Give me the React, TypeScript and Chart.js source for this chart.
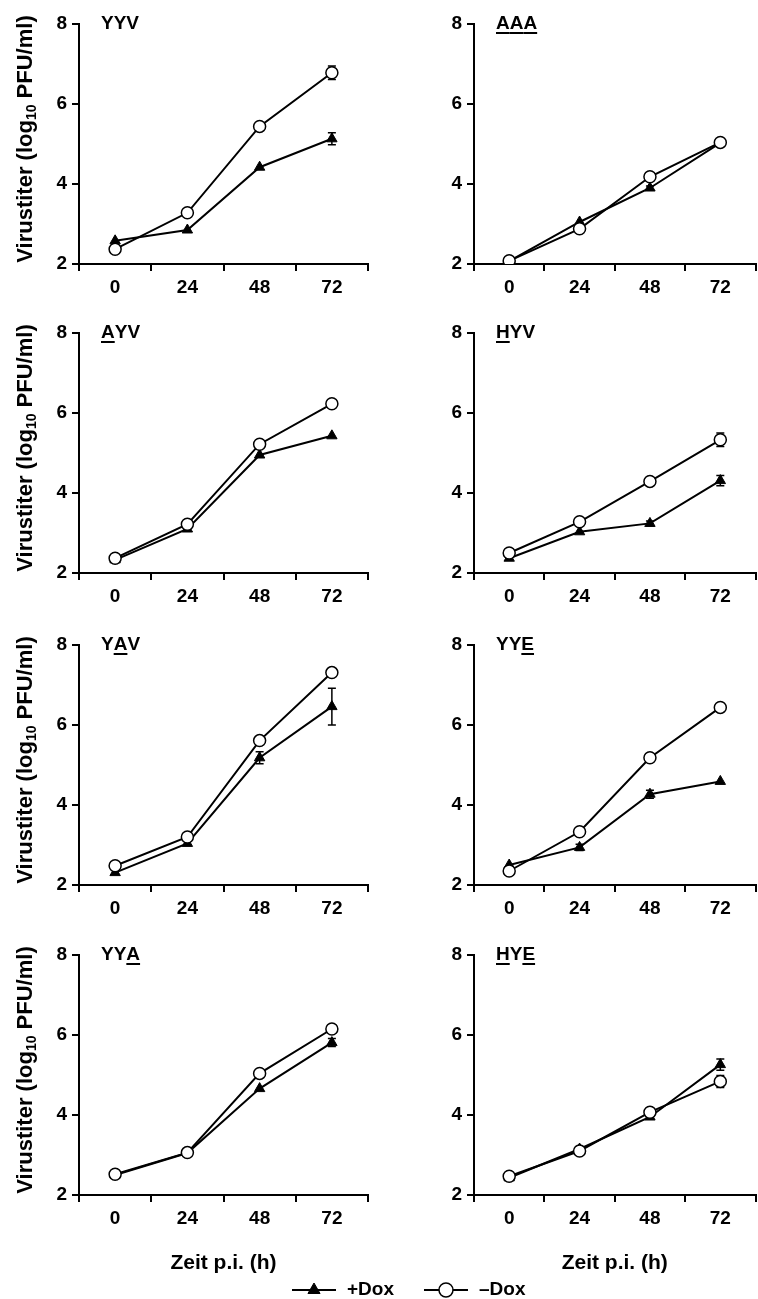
import React, { useEffect, useRef } from "react";
import { Chart, registerables } from "chart.js";
import { drawPoint } from "chart.js/helpers";

Chart.register(...registerables);

const FONT = "'Liberation Sans', Arial, Helvetica, sans-serif";

// ---- categories, ticks, labels ----
const timeLabels = ["0", "24", "48", "72"];
const yTickValues = [2, 4, 6, 8];
const seriesNames = ["+Dox", "\u2013Dox"];
const xAxisTitle = "Zeit p.i. (h)";
const yTitleMain = "Virustiter (log";
const yTitleSub = "10";
const yTitleEnd = " PFU/ml)";

// panel titles (row by row, left then right) and underlined letter positions
const panelNames = ["YYV", "AAA", "AYV", "HYV", "YAV", "YYE", "YYA", "HYE"];
const underlinedLetters = [[], [0, 1, 2], [0], [0], [1], [2], [2], [0, 2]];

// ---- series values (log10 PFU/ml) and error bars ----
const yyvPlus = [2.58, 2.85, 4.42, 5.13];
const yyvPlusErr = [0, 0, 0, 0.15];
const yyvMinus = [2.37, 3.28, 5.44, 6.78];
const yyvMinusErr = [0, 0, 0, 0.17];

const aaaPlus = [2.07, 3.05, 3.9, 5.03];
const aaaPlusErr = [0, 0, 0.05, 0];
const aaaMinus = [2.08, 2.88, 4.18, 5.04];
const aaaMinusErr = [0, 0, 0, 0.08];

const ayvPlus = [2.33, 3.1, 4.95, 5.43];
const ayvPlusErr = [0, 0, 0, 0];
const ayvMinus = [2.37, 3.22, 5.22, 6.23];
const ayvMinusErr = [0, 0, 0, 0];

const hyvPlus = [2.37, 3.03, 3.24, 4.31];
const hyvPlusErr = [0, 0, 0.06, 0.13];
const hyvMinus = [2.5, 3.28, 4.29, 5.33];
const hyvMinusErr = [0, 0, 0, 0.17];

const yavPlus = [2.31, 3.04, 5.18, 6.46];
const yavPlusErr = [0, 0, 0.15, 0.46];
const yavMinus = [2.48, 3.2, 5.61, 7.31];
const yavMinusErr = [0, 0, 0, 0];

const yyePlus = [2.5, 2.94, 4.27, 4.59];
const yyePlusErr = [0, 0.08, 0.1, 0];
const yyeMinus = [2.35, 3.33, 5.18, 6.44];
const yyeMinusErr = [0, 0, 0, 0.1];

const yyaPlus = [2.5, 3.05, 4.66, 5.81];
const yyaPlusErr = [0, 0, 0, 0.1];
const yyaMinus = [2.52, 3.06, 5.04, 6.15];
const yyaMinusErr = [0, 0, 0, 0.05];

const hyePlus = [2.43, 3.15, 3.95, 5.26];
const hyePlusErr = [0, 0.06, 0, 0.14];
const hyeMinus = [2.47, 3.1, 4.07, 4.84];
const hyeMinusErr = [0, 0, 0, 0.15];

const plusSeries = [yyvPlus, aaaPlus, ayvPlus, hyvPlus, yavPlus, yyePlus, yyaPlus, hyePlus];
const plusErrors = [yyvPlusErr, aaaPlusErr, ayvPlusErr, hyvPlusErr, yavPlusErr, yyePlusErr, yyaPlusErr, hyePlusErr];
const minusSeries = [yyvMinus, aaaMinus, ayvMinus, hyvMinus, yavMinus, yyeMinus, yyaMinus, hyeMinus];
const minusErrors = [yyvMinusErr, aaaMinusErr, ayvMinusErr, hyvMinusErr, yavMinusErr, yyeMinusErr, yyaMinusErr, hyeMinusErr];

// ---- layout ----
const COLS = [
  { left: 0, width: 380, yWidth: 79, padRight: 12 },
  { left: 379, width: 384, yWidth: 95, padRight: 0 },
];
const ROW_TOPS = [24, 333, 645, 955];
const PAD_TOP = 24;
const PLOT_H = 240;
const X_H = 45;
const X_H_LAST = 86;

const plusStyle = {
  borderColor: "#000",
  borderWidth: 2,
  pointStyle: "triangle",
  pointRadius: 6,
  pointBackgroundColor: "#000",
  pointBorderColor: "#000",
  pointBorderWidth: 1,
  tension: 0,
  order: 1,
};
const minusStyle = {
  borderColor: "#000",
  borderWidth: 2,
  pointStyle: "circle",
  pointRadius: 6,
  pointBackgroundColor: "#fff",
  pointBorderColor: "#000",
  pointBorderWidth: 1.5,
  tension: 0,
  order: 0,
};

const errorBarsPlugin = {
  id: "errorBars",
  beforeDatasetsDraw(chart: any) {
    const ctx = chart.ctx;
    const yScale = chart.scales.y;
    chart.data.datasets.forEach((ds: any, i: number) => {
      const meta = chart.getDatasetMeta(i);
      const errs = ds.errors || [];
      meta.data.forEach((pt: any, j: number) => {
        const e = errs[j];
        if (!e) return;
        const v = ds.data[j];
        const yT = yScale.getPixelForValue(v + e);
        const yB = yScale.getPixelForValue(v - e);
        ctx.save();
        ctx.strokeStyle = "#000";
        ctx.lineWidth = 1.5;
        ctx.beginPath();
        ctx.moveTo(pt.x, yT);
        ctx.lineTo(pt.x, yB);
        ctx.moveTo(pt.x - 4, yT);
        ctx.lineTo(pt.x + 4, yT);
        ctx.moveTo(pt.x - 4, yB);
        ctx.lineTo(pt.x + 4, yB);
        ctx.stroke();
        ctx.restore();
      });
    });
  },
};

const panelTitlePlugin = {
  id: "panelTitle",
  afterDraw(chart: any, _args: any, opts: any) {
    if (!opts || !opts.text) return;
    const { ctx, chartArea } = chart;
    ctx.save();
    ctx.font = `bold 19px ${FONT}`;
    ctx.fillStyle = "#000";
    ctx.textBaseline = "alphabetic";
    ctx.textAlign = "left";
    let x = chartArea.left + 22;
    const y = chartArea.top + 5;
    const text: string = opts.text;
    for (let k = 0; k < text.length; k++) {
      const ch = text[k];
      const w = ctx.measureText(ch).width;
      ctx.fillText(ch, x, y);
      if (opts.underline.includes(k)) ctx.fillRect(x, y + 3, w, 2);
      x += w;
    }
    ctx.restore();
  },
};

const yTitlePlugin = {
  id: "yTitle",
  afterDraw(chart: any, _args: any, opts: any) {
    if (!opts || !opts.show) return;
    const { ctx, chartArea } = chart;
    const parts = [
      { t: yTitleMain, size: 22, dy: 0, w: 0 },
      { t: yTitleSub, size: 14, dy: 4, w: 0 },
      { t: yTitleEnd, size: 22, dy: 0, w: 0 },
    ];
    ctx.save();
    ctx.fillStyle = "#000";
    ctx.textBaseline = "alphabetic";
    ctx.textAlign = "left";
    let total = 0;
    parts.forEach((p) => {
      ctx.font = `bold ${p.size}px ${FONT}`;
      p.w = ctx.measureText(p.t).width;
      total += p.w;
    });
    const cy = (chartArea.top + chartArea.bottom) / 2 - 5;
    ctx.translate(32, cy);
    ctx.rotate(-Math.PI / 2);
    let x = -total / 2;
    parts.forEach((p) => {
      ctx.font = `bold ${p.size}px ${FONT}`;
      ctx.fillText(p.t, x, p.dy);
      x += p.w;
    });
    ctx.restore();
  },
};

const lineLegendPlugin = {
  id: "lineLegend",
  afterDraw(chart: any, _args: any, opts: any) {
    const ctx = chart.ctx;
    const y = chart.height / 2;
    let x = opts.startX;
    chart.data.datasets.forEach((ds: any) => {
      ctx.save();
      ctx.strokeStyle = ds.borderColor;
      ctx.lineWidth = ds.borderWidth;
      ctx.beginPath();
      ctx.moveTo(x, y);
      ctx.lineTo(x + 44, y);
      ctx.stroke();
      ctx.fillStyle = ds.pointBackgroundColor;
      ctx.strokeStyle = ds.pointBorderColor;
      ctx.lineWidth = ds.pointBorderWidth;
      drawPoint(
        ctx,
        { pointStyle: ds.pointStyle, radius: ds.pointRadius + 1, rotation: 0, borderWidth: ds.pointBorderWidth } as any,
        x + 22,
        y
      );
      ctx.fillStyle = "#000";
      ctx.font = `bold 19px ${FONT}`;
      ctx.textBaseline = "middle";
      ctx.textAlign = "left";
      ctx.fillText(ds.label, x + 55, y);
      x += 55 + ctx.measureText(ds.label).width + 30;
      ctx.restore();
    });
  },
};

function makePanelConfig(i: number): any {
  const col = COLS[i % 2];
  const row = Math.floor(i / 2);
  const last = row === 3;
  const xH = last ? X_H_LAST : X_H;
  return {
    type: "line",
    data: {
      labels: timeLabels,
      datasets: [
        { label: seriesNames[0], data: plusSeries[i], errors: plusErrors[i], ...plusStyle },
        { label: seriesNames[1], data: minusSeries[i], errors: minusErrors[i], ...minusStyle },
      ],
    },
    options: {
      responsive: false,
      animation: false,
      events: [],
      layout: { padding: { top: PAD_TOP, right: col.padRight, bottom: 0, left: 0 } },
      plugins: {
        legend: { display: false },
        tooltip: { enabled: false },
        panelTitle: { text: panelNames[i], underline: underlinedLetters[i] },
        yTitle: { show: i % 2 === 0 },
      },
      scales: {
        x: {
          type: "category",
          offset: true,
          afterFit: (s: any) => {
            s.height = xH;
          },
          grid: { offset: true, drawOnChartArea: false, drawTicks: true, tickLength: 7, color: "#000", lineWidth: 2 },
          border: { display: true, color: "#000", width: 2 },
          ticks: { color: "#000", font: { family: FONT, size: 19, weight: "bold" }, padding: 5, maxRotation: 0 },
          title: {
            display: last,
            text: xAxisTitle,
            color: "#000",
            font: { family: FONT, size: 21, weight: "bold" },
            padding: { top: 0, bottom: 5 },
          },
        },
        y: {
          min: 2,
          max: 8,
          afterFit: (s: any) => {
            s.width = col.yWidth;
          },
          afterBuildTicks: (s: any) => {
            s.ticks = yTickValues.map((v) => ({ value: v }));
          },
          grid: { drawOnChartArea: false, drawTicks: true, tickLength: 7, color: "#000", lineWidth: 2 },
          border: { display: true, color: "#000", width: 2 },
          ticks: { color: "#000", font: { family: FONT, size: 19, weight: "bold" }, padding: 5 },
        },
      },
    },
    plugins: [errorBarsPlugin, panelTitlePlugin, yTitlePlugin],
  };
}

export default function App() {
  const refs = useRef<(HTMLCanvasElement | null)[]>([]);
  const legendRef = useRef<HTMLCanvasElement | null>(null);

  useEffect(() => {
    Chart.defaults.font.family = FONT;
    Chart.defaults.color = "#000";
    const charts: Chart[] = [];
    panelNames.forEach((_, i) => {
      const c = refs.current[i];
      if (c) charts.push(new Chart(c, makePanelConfig(i)));
    });
    if (legendRef.current) {
      charts.push(
        new Chart(legendRef.current, {
          type: "line",
          data: {
            labels: [],
            datasets: [
              { label: seriesNames[0], data: [], ...plusStyle } as any,
              { label: seriesNames[1], data: [], ...minusStyle } as any,
            ],
          },
          options: {
            responsive: false,
            animation: false,
            events: [],
            plugins: { legend: { display: false }, tooltip: { enabled: false }, lineLegend: { startX: 292 } } as any,
            scales: { x: { display: false }, y: { display: false } },
          },
          plugins: [lineLegendPlugin],
        })
      );
    }
    return () => charts.forEach((c) => c.destroy());
  }, []);

  return (
    <div
      style={{
        position: "absolute",
        left: 0,
        top: 0,
        width: 758,
        height: 1299,
        overflow: "hidden",
        background: "#fff",
      }}
    >
      {panelNames.map((name, i) => {
        const col = COLS[i % 2];
        const row = Math.floor(i / 2);
        const h = PAD_TOP + PLOT_H + (row === 3 ? X_H_LAST : X_H);
        return (
          <canvas
            key={name}
            ref={(el) => {
              refs.current[i] = el;
            }}
            width={col.width}
            height={h}
            style={{ position: "absolute", left: col.left, top: ROW_TOPS[row] - PAD_TOP, width: col.width, height: h }}
          />
        );
      })}
      <canvas
        ref={legendRef}
        width={758}
        height={28}
        style={{ position: "absolute", left: 0, top: 1276, width: 758, height: 28 }}
      />
    </div>
  );
}
